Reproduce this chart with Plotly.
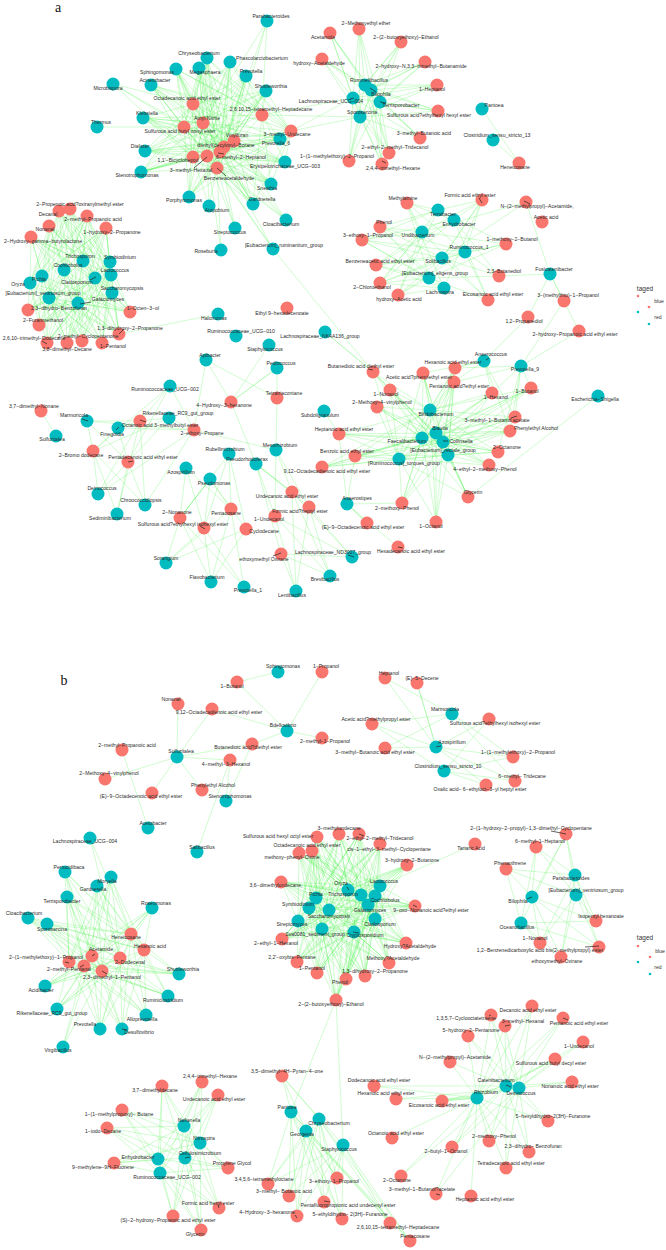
import plotly.graph_objects as go
from itertools import product

# ---------- panel a ----------
A_MAIN_RED = [
    ("Octadecanoic acid ethyl ester",193,104,187,99),("Amyl Nitrite",203,123,207,119),
    ("Sulfurous acid butyl nonyl ester",184,127,180,132),("2,6,10,15-tetramethyl-Heptadecane",262,115,271,110),
    ("3-methyl-Undecane",291,131,287,135),("Vinylfuran",234,141,237,136),
    ("diethyl(decyloxy)-Borane",224,147,226,146),("1,1'-Bicycloheptyl",193,157,178,161),
    ("3-methyl-Hexanal",207,156,191,171),("6-methyl-2-Heptanol",220,152,241,158),
    ("Benzeneacetaldehyde",217,168,229,179),
]
A_MAIN_TEAL = [
    ("Parabacteroides",267,21,271,17),("Chryseobacterium",207,58,199,54),("Megasphaera",199,68,205,73),
    ("Phascolarctobacterium",230,62,262,59),("Sphingomonas",176,69,157,73),("Acinetobacter",151,85,155,81),
    ("Microbispora",113,84,108,89),("Prevotella",246,76,251,72),("Shuttleworthia",266,91,271,87),
    ("Klebsiella",143,118,147,114),("Thermus",97,127,101,123),("Dialister",145,151,140,147),
    ("Stenotrophomonas",141,172,137,176),("Prevotella_6",280,139,276,144),
    ("Erysipelotrichaceae_UCG-003",285,162,285,167),("Sneathia",271,184,267,189),
    ("Gardnerella",253,204,262,200),("Cloacibacterium",286,220,281,225),("Porphyromonas",189,197,184,201),
    ("Atopobium",209,206,217,211),("Streptococcus",235,228,230,233),("Roseburia",221,250,206,252),
    ("[Eubacterium]_ruminantium_group",273,249,284,246),
]
A_TOP_RED = [
    ("Acetamide",330,33,323,38),("hydroxy-Acetaldehyde",322,59,319,64),("2-Methoxyethyl ether",359,29,366,24),
    ("2-(2-butoxyethoxy)-Ethanol",401,42,406,38),("2-hydroxy-N,3,3-trimethyl-Butanamide",425,62,421,67),
    ("1-Heptanol",437,85,432,90),("Sulfurous acid?ethylhexyl hexyl ester",438,111,429,116),
    ("3-methyl-Butanoic acid",420,138,424,134),("2-ethyl-2-methyl-Tridecanol",389,153,395,148),
    ("2,4,4-trimethyl-Hexane",382,164,393,169),("1-(1-methylethoxy)-2-Propanol",349,161,337,157),
]
A_TOP_TEAL = [
    ("Rummeliibacillus",365,85,369,81),("Bilophila",371,90,381,95),("Terrisporobacter",380,102,401,106),
    ("Lachnospiraceae_UCG-004",353,98,331,102),("Sporosarcina",360,117,362,113),
]
A_SOLO_RED = [("Heneicosane",519,163,515,168),("Ethyl 9-hexadecenoate",287,308,282,314)]
A_SOLO_TEAL = [
    ("Pantoea",482,109,494,106),("Clostridium_sensu_stricto_13",493,140,497,136),
    ("Halomonas",218,314,214,319),("Ruminococcaceae_UCG-010",236,336,241,332),
    ("Lachnospiraceae_NK4A136_group",325,332,320,337),("Subdoligranulum",324,411,320,416),
    ("Escherichia-Shigella",598,396,595,400),("Sulfuritalea",56,436,52,440),
]
A_LEFT_RED = [
    ("2-Propenoic acid?oxiranylmethyl ester",70,209,80,205),("Decanal",59,211,48,215),
    ("2-methyl-Propanoic acid",87,216,93,220),("Nonanal",49,226,45,230),
    ("1-hydroxy-2-Propanone",106,228,112,233),("2-Hydroxy-gamma-butyrolactone",31,237,43,242),
    ("2,3-dihydro-Benzofuran",28,310,59,309),("2-Furanmethanol",39,325,43,321),
    ("2,6,10-trimethyl-Dodecane",47,343,34,339),("3,8-dimethyl-Decane",67,343,67,350),
    ("2-methyl-Cyclopentanone",82,341,88,337),("1-Pentanol",102,343,113,347),
    ("1,3-dihydroxy-2-Propanone",119,334,130,329),("1-Octen-3-ol",130,312,143,309),
]
A_LEFT_TEAL = [
    ("Trichosporon",83,261,80,257),("Symbiodinium",110,262,120,258),("Cochliobolus",64,270,68,266),
    ("Lactococcus",111,275,115,271),("Cladosporium",95,278,77,283),("Pichia",42,276,39,280),
    ("Oryza",30,283,18,285),("Saccharomycopsis",112,293,122,289),
    ("[Eubacterium]_ventriosum_group",49,298,43,294),("Galactomyces",78,303,108,300),
]
A_RIGHT_RED = [
    ("Methylamine",407,203,403,199),("Formic acid ethyl ester",482,200,470,196),
    ("N-(2-methylpropyl)-Acetamide,",526,202,537,207),("Acetic acid",542,222,546,218),
    ("Phenol",380,227,384,223),("3-ethoxy-1-Propanol",362,240,368,236),
    ("1-methoxy-2-Butanol",506,244,512,240),("Benzeneacetic acid ethyl ester",376,265,380,262),
    ("2,3-Butanediol",499,276,504,272),("2-Chloroethanol",380,283,372,288),
    ("hydroxy-Acetic acid",398,295,399,300),("Eicosanoic acid ethyl ester",488,300,493,295),
    ("3-(methylthio)-1-Propanol",564,301,568,296),("1,2-Propanediol",528,317,524,322),
    ("2-hydroxy-Propanoic acid ethyl ester",579,331,575,335),
]
A_RIGHT_TEAL = [
    ("Terrabacter",438,210,443,215),("Enhydrobacter",454,220,459,225),("Undibacterium",422,232,418,236),
    ("Ruminococcus_1",465,252,469,248),("Solibacillus",442,258,438,262),
    ("[Eubacterium]_eligens_group",429,278,435,274),("Lachnospira",444,288,440,293),
    ("Fusicatenibacter",550,274,554,270),
]
A_GUT_RED = [
    ("Butanedioic acid diethyl ester",373,372,361,367),("Acetic acid?phenylethyl ester",423,373,419,378),
    ("Hexanoic acid ethyl ester",455,368,453,363),("Pentanoic acid?ethyl ester",454,382,459,387),
    ("1-Butanol",531,388,527,392),("1-Hexanol",492,393,496,398),("1-Nonanol",390,390,386,395),
    ("2-Methoxy-4-vinylphenol",377,407,382,403),("3-methyl-1-Butanol acetate",515,417,497,421),
    ("Phenylethyl Alcohol",510,431,536,429),("2-Octanone",498,452,507,448),
    ("4-ethyl-2-methoxy-Phenol",489,465,485,470),("Glycerin",468,497,473,493),
    ("2-methoxy-Phenol",402,503,397,509),("1-Octanol",436,522,431,527),
    ("Heptanoic acid ethyl ester",339,434,344,430),("Benzoic acid ethyl ester",355,456,347,452),
    ("9,12-Octadecadienoic acid ethyl ester",322,467,327,472),
    ("(E)-9-Octadecenoic acid ethyl ester",367,523,363,528),
    ("Hexadecanoic acid ethyl ester",398,547,411,552),
]
A_GUT_TEAL = [
    ("Anaerococcus",484,361,491,355),("Prevotella_9",521,366,525,370),("Bifidobacterium",430,410,436,415),
    ("Blautia",436,433,440,429),("Collinsella",443,442,461,442),("Faecalibacterium",422,438,407,442),
    ("[Eubacterium]_rectale_group",448,455,443,451),("[Ruminococcus]_torques_group",399,459,404,464),
    ("Anaerostipes",347,504,357,499),
]
A_LOW_RED = [
    ("Tetratriacontane",277,398,284,394),("4-Hydroxy-3-hexanone",231,402,224,406),
    ("3,7-dimethyl-Nonane",41,411,34,407),("Octanoic acid 3-methylbutyl ester",140,421,160,426),
    ("2-ethoxy-Propane",194,430,202,434),("2-Bromo dodecane",93,451,81,456),
    ("Pentadecanoic acid ethyl ester",128,462,143,458),("Undecanoic acid ethyl ester",292,492,287,497),
    ("Formic acid?heptyl ester",309,507,300,512),("1-Undecanol",275,516,269,520),
    ("2-Nonanone",180,518,177,513),("Pentacosane",231,509,226,514),
    ("Sulfurous acid?ethylhexyl isohexyl ester",204,528,183,525),("Cyclodecane",246,529,264,532),
    ("ethoxymethyl Oxirane",281,554,264,560),
]
A_LOW_TEAL = [
    ("Staphylococcus",269,345,265,350),("Pediococcus",277,368,281,364),("Apibacter",206,360,210,356),
    ("Ruminococcaceae_UCG-002",170,386,165,390),("Marmoricola",87,421,74,416),("Finegoldia",118,428,112,435),
    ("Rikenellaceae_RC9_gut_group",169,418,178,414),("Deinococcus",98,494,102,489),
    ("Sediminibacterium",117,514,110,519),("Chroococcidiopsis",145,505,141,501),
    ("Rubellimicrobium",229,454,225,450),("Pseudorhodoferax",256,464,247,460),
    ("Mesorhizobium",276,450,280,446),("Azospirillum",186,468,181,473),("Pseudomonas",210,479,214,484),
    ("Sorangium",166,563,166,559),("Flavobacterium",211,582,207,578),("Prevotella_1",244,587,248,591),
    ("Lentibacillus",296,591,292,596),("Brevibacillus",330,576,325,580),
    ("Lachnospiraceae_ND3007_group",352,557,333,553),
]
# ---------- panel b ----------
B_TOP_RED = [
    ("1-Propanol",322,672,326,667),("1-Butanol",237,682,232,687),("Nonanal",178,704,171,700),
    ("9,12-Octadecadienoic acid ethyl ester",212,709,219,713),("2-methyl-1-Propanol",322,738,325,742),
    ("Butanedioic acid?diethyl ester",252,744,248,748),("2-methyl-Propanoic acid",122,750,127,746),
    ("4-methyl-3-Hexanol",230,760,226,765),("2-Methoxy-4-vinylphenol",105,779,109,774),
    ("Phenylethyl Alcohol",202,790,213,786),("(E)-9-Octadecenoic acid ethyl ester",152,793,141,797),
]
B_TOP_TEAL = [
    ("Sphingomonas",278,672,283,667),("Bdellovibrio",287,731,283,726),("Sulfuritalea",177,757,181,752),
    ("Stenotrophomonas",226,801,230,797),("Acetobacter",148,828,153,824),("Salibacillus",197,852,202,848),
]
B_MARM_RED = [
    ("Heptanol",385,678,389,674),("(E)-5-Decene",417,683,422,679),
    ("Sulfurous acid?ethylhexyl isohexyl ester",489,719,495,724),
    ("Acetic acid?methylpropyl ester",372,724,376,720),("3-methyl-Butanoic acid ethyl ester",385,748,375,753),
    ("1-(1-methylethoxy)-2-Propanol",513,757,518,753),("6-methyl- Tridecane",515,781,522,777),
    ("Oxalic acid- 6-ethyloct-3-yl heptyl ester",486,785,480,790),
]
B_MARM_TEAL = [
    ("Marmoricola",452,714,445,710),("Azospirillum",436,747,452,743),
    ("Clostridium_sensu_stricto_10",444,771,448,767),
]
B_MID_RED = [
    ("Sulfurous acid hexyl octyl ester",317,837,278,837),("3-methylundecane",339,834,339,829),
    ("2-ethyl-2-methyl-Tridecanol",359,834,380,839),("cis-1-ethyl-3-methyl-Cyclopentane",380,844,389,850),
    ("Octadecanoic acid ethyl ester",312,851,307,846),("methoxy-phenyl-Oxime",299,853,292,858),
    ("3-hydroxy-2-Butanone",407,865,412,861),("3,6-dimethylundecane,",281,882,276,886),
    ("9-oxo-Nonanoic acid?ethyl ester",415,906,431,911),("Hydroxy?Acetaldehyde",406,943,410,947),
    ("Methoxy?Acetaldehyde",389,963,393,959),("2-ethyl-1-Hexanol",282,939,276,944),
    ("2,2'-oxybis-Pentane",297,962,292,958),("1-Pentanol",317,973,312,969),
    ("1,3-dihydroxy-2-Propanone",365,976,375,972),("Phenol",346,979,340,983),
    ("2-(2-butoxyethoxy)-Ethanol",336,1000,331,1005),
]
B_MID_TEAL = [
    ("Oryza",348,890,341,884),("Lactococcus",380,886,384,882),("Trichosporon",361,895,343,895),
    ("Pichia",316,898,316,895),("Cochliobolus",375,896,385,901),("Symbiodinium",309,908,298,905),
    ("Saccharomycopsis",329,910,329,917),("Galactomyces",368,905,370,911),("Cladosporium",375,919,380,925),
    ("Streptomyces",298,921,292,925),("Sva0081_sediment_group",322,929,315,935),
    ("Cryptosporidium",354,932,365,936),
]
B_RIGHT_RED = [
    ("Tartaric Acid",475,844,471,849),
    ("2-(1-hydroxy-2-propyl)-1,3-dimethyl-Cyclopentane",566,834,531,829),
    ("6-methyl-1-Heptanol",536,847,540,842),("Phenanthrene",506,869,510,864),
    ("Isopentyl hexanoate",596,921,601,917),("1-Nonanol",540,943,535,939),
    ("1,2-Benzenedicarboxylic acid bis(2-methylpropyl) ester",599,947,540,951),
    ("ethoxymethyl-Oxirane",561,957,557,962),
]
B_RIGHT_TEAL = [
    ("Parabacteroides",575,875,571,879),("[Eubacterium]_ventriosum_group",576,895,586,891),
    ("Bilophila",532,897,518,902),("Oceanobacillus",521,923,517,928),
]
B_LEFT_RED = [
    ("Heneicosane",131,934,126,938),("Hexanoic acid",144,950,150,947),("Acetamide",92,956,101,950),
    ("2-Dodecenal",120,958,130,963),("2-(1-methylethoxy)-1-Propanol",69,962,46,958),
    ("2-methyl-Pentanal",84,966,69,970),("2,3-dimethyl-1-Pentanol",102,971,112,978),
]
B_LEFT_TEAL = [
    ("Lachnospiraceae_UCG-004",90,838,85,842),("Pertucidibaca",65,872,69,868),("Moryella",111,877,107,882),
    ("Gardnerella",97,886,93,890),("Terrisporobacter",67,897,62,902),("Roseomonas",152,908,156,904),
    ("Cloacibacterium",28,918,24,914),("Sporosarcina",47,924,52,930),("Shuttleworthia",179,974,183,970),
    ("Acidibacter",45,986,41,991),("Ruminiclostridium",168,996,163,1001),
    ("Rikenellaceae_RC9_gut_group",57,1009,52,1014),("Alloprevotella",146,1015,142,1020),
    ("Prevotella",100,1029,85,1025),("Desulfovibrio",122,1029,139,1033),("Virgibacillus",63,1047,58,1051),
]
B_BL_RED = [
    ("2,4,4-trimethyl-Hexane",202,1082,210,1077),("3,7-dimethyldecane",162,1086,155,1091),
    ("Undecanoic acid ethyl ester",218,1095,214,1100),("1-(1-methylpropoxy)- Butane",122,1110,119,1115),
    ("1-iodo-Decane",107,1128,103,1132),("9-methylene-9H-Fluorene",114,1163,103,1168),
    ("Propylene Glycol",228,1168,232,1164),("Formic acid hexyl ester",219,1208,208,1204),
    ("(S)-2-hydroxy-Propanoic acid ethyl ester",173,1216,168,1221),("Glycerin",201,1230,195,1235),
]
B_BL_TEAL = [
    ("Nafianella",184,1126,189,1121),("Nitrospira",200,1143,204,1139),
    ("Cellulosimicrobium",185,1158,200,1154),("Enhydrobacter",158,1159,138,1158),
    ("Ruminococcaceae_UCG-002",160,1173,167,1178),
]
B_BM_RED = [
    ("3,5-dimethyl-4H-Pyran-4-one",282,1076,287,1072),("3,4,5,6-tetramethyloctane",268,1184,264,1180),
    ("3-methyl- Butanoic acid",289,1196,284,1192),("Pentafluoropropionic acid undecenyl ester",324,1202,348,1206),
    ("3-ethoxy-1-Propanol",337,1178,334,1182),("4-Hydroxy-3-hexanone",297,1216,267,1213),
    ("5-ethyldihydro- 2(3H)-Furanone",342,1219,350,1215),("2,6,10,15-tetramethyl-Heptadecane",390,1223,398,1228),
    ("Pentacosane",410,1241,415,1237),
]
B_BM_TEAL = [
    ("Pantoea",291,1112,287,1108),("Chryseobacterium",319,1119,329,1124),("Georgenia",306,1131,302,1135),
    ("Staphylococcus",343,1145,339,1150),
]
B_BR_RED = [
    ("Decanoic acid ethyl ester",532,1006,528,1011),("Pentanoic acid ethyl ester",563,1018,579,1024),
    ("1,3,5,7-Cyclooctatetraene",491,1015,466,1019),("3-methyl-Hexanal",505,1026,523,1022),
    ("5-hydroxy-2-Pentanone",468,1036,471,1031),("1-Undecanol",583,1042,579,1047),
    ("Sulfurous acid butyl decyl ester",555,1059,551,1064),("N-(2-methylpropyl)-Acetamide",450,1062,455,1058),
    ("Nonanoic acid ethyl ester",572,1082,570,1087),("Dodecanoic acid ethyl ester",374,1086,379,1081),
    ("Hexanoic acid ethyl ester",396,1099,386,1094),("Eicosanoic acid ethyl ester",442,1101,439,1106),
    ("5-hexyldihydro-2(3H)-Furanone",548,1121,553,1117),("Octanoic acid ethyl ester",392,1138,396,1134),
    ("2-methoxy-Phenol",489,1141,494,1137),("2-butyl-1-Octanol",452,1147,446,1152),
    ("2,3-dihydro- Benzofuran",529,1152,533,1147),("Tetradecanoic acid ethyl ester",506,1168,511,1164),
    ("2-Octanone",401,1176,397,1181),("3-methyl-1-Butanol?acetate",436,1194,422,1190),
    ("Heptanoic acid ethyl ester",471,1196,485,1200),
]
B_BR_TEAL = [
    ("Catenibacterium",506,1086,496,1081),("Deinococcus",519,1088,521,1094),("Rhizobium",477,1098,486,1093),
]

# Edges: teal name -> red partners.
A_LINKS = {
    "Thermus":["Sulfurous acid butyl nonyl ester"],
    "Microbispora":["Octadecanoic acid ethyl ester","Sulfurous acid butyl nonyl ester","diethyl(decyloxy)-Borane","1,1'-Bicycloheptyl"],
    "Parabacteroides":["2,6,10,15-tetramethyl-Heptadecane","Amyl Nitrite","Vinylfuran","Benzeneacetaldehyde"],
    "Roseburia":["3-methyl-Hexanal","Benzeneacetaldehyde"],
    "Streptococcus":["3-methyl-Hexanal","Benzeneacetaldehyde","6-methyl-2-Heptanol"],
    "Atopobium":["3-methyl-Hexanal","Benzeneacetaldehyde","1,1'-Bicycloheptyl"],
    "[Eubacterium]_ruminantium_group":["Benzeneacetaldehyde","6-methyl-2-Heptanol","3-methyl-Hexanal","Butanedioic acid diethyl ester"],
    "Cloacibacterium":["Benzeneacetaldehyde","6-methyl-2-Heptanol","3-methyl-Hexanal","Vinylfuran","diethyl(decyloxy)-Borane"],
    "Lachnospiraceae_UCG-004":["2,6,10,15-tetramethyl-Heptadecane","3-methyl-Undecane"],
    "Sporosarcina":["2,6,10,15-tetramethyl-Heptadecane","3-methyl-Undecane"],
    "Pantoea":["Heneicosane"],"Clostridium_sensu_stricto_13":["Heneicosane"],
    "Halomonas":["1,3-dihydroxy-2-Propanone"],"Sulfuritalea":["3,7-dimethyl-Nonane"],
    "Lachnospiraceae_NK4A136_group":["Butanedioic acid diethyl ester","Butanedioic acid diethyl ester"],
    "Subdoligranulum":["Heptanoic acid ethyl ester"],
    "Escherichia-Shigella":["Glycerin"],
    "Terrabacter":["Methylamine","Formic acid ethyl ester","Phenol","3-ethoxy-1-Propanol","1-methoxy-2-Butanol","2-Chloroethanol","hydroxy-Acetic acid"],
    "Enhydrobacter":["Methylamine","Formic acid ethyl ester","2,3-Butanediol","3-ethoxy-1-Propanol","Benzeneacetic acid ethyl ester","Eicosanoic acid ethyl ester","2-Chloroethanol"],
    "Undibacterium":["Methylamine","Formic acid ethyl ester","N-(2-methylpropyl)-Acetamide,","Phenol","3-ethoxy-1-Propanol","Benzeneacetic acid ethyl ester","1-methoxy-2-Butanol","2-Chloroethanol","hydroxy-Acetic acid","Eicosanoic acid ethyl ester"],
    "Ruminococcus_1":["Methylamine","Formic acid ethyl ester","Phenol","3-ethoxy-1-Propanol","1-methoxy-2-Butanol","Benzeneacetic acid ethyl ester","2,3-Butanediol","2-Chloroethanol","hydroxy-Acetic acid","Eicosanoic acid ethyl ester"],
    "Solibacillus":["Formic acid ethyl ester","N-(2-methylpropyl)-Acetamide,","Phenol","3-ethoxy-1-Propanol","1-methoxy-2-Butanol","Benzeneacetic acid ethyl ester","2,3-Butanediol","2-Chloroethanol","hydroxy-Acetic acid","Eicosanoic acid ethyl ester"],
    "[Eubacterium]_eligens_group":["Methylamine","Formic acid ethyl ester","Phenol","3-ethoxy-1-Propanol","1-methoxy-2-Butanol","Benzeneacetic acid ethyl ester","2,3-Butanediol","2-Chloroethanol","hydroxy-Acetic acid","Eicosanoic acid ethyl ester"],
    "Lachnospira":["Methylamine","Formic acid ethyl ester","Phenol","3-ethoxy-1-Propanol","Benzeneacetic acid ethyl ester","2-Chloroethanol","hydroxy-Acetic acid"],
    "Fusicatenibacter":["N-(2-methylpropyl)-Acetamide,","2,3-Butanediol","3-(methylthio)-1-Propanol","1,2-Propanediol","2-hydroxy-Propanoic acid ethyl ester"],
    "Anaerococcus":["1,2-Propanediol","Hexanoic acid ethyl ester","Pentanoic acid?ethyl ester","Acetic acid?phenylethyl ester","1-Hexanol","3-methyl-1-Butanol acetate","Phenylethyl Alcohol"],
    "Prevotella_9":["3-(methylthio)-1-Propanol","2-hydroxy-Propanoic acid ethyl ester","Hexanoic acid ethyl ester","Pentanoic acid?ethyl ester","1-Hexanol","1-Butanol","3-methyl-1-Butanol acetate","Phenylethyl Alcohol","2-Octanone"],
    "Anaerostipes":["2-methoxy-Phenol","(E)-9-Octadecenoic acid ethyl ester","(E)-9-Octadecenoic acid ethyl ester","Hexadecanoic acid ethyl ester","Heptanoic acid ethyl ester","Benzoic acid ethyl ester"],
    "Staphylococcus":["4-Hydroxy-3-hexanone"],
    "Pediococcus":["4-Hydroxy-3-hexanone","4-Hydroxy-3-hexanone","Tetratriacontane"],
    "Apibacter":["4-Hydroxy-3-hexanone","2-ethoxy-Propane","Tetratriacontane"],
    "Ruminococcaceae_UCG-002":["Octanoic acid 3-methylbutyl ester","2-ethoxy-Propane","2-Bromo dodecane","Pentadecanoic acid ethyl ester"],
    "Marmoricola":["Octanoic acid 3-methylbutyl ester","2-ethoxy-Propane","2-Bromo dodecane","Pentadecanoic acid ethyl ester"],
    "Finegoldia":["Octanoic acid 3-methylbutyl ester","2-ethoxy-Propane","2-Bromo dodecane","Pentadecanoic acid ethyl ester"],
    "Rikenellaceae_RC9_gut_group":["Octanoic acid 3-methylbutyl ester","2-ethoxy-Propane","2-Bromo dodecane","Pentadecanoic acid ethyl ester"],
    "Deinococcus":["Octanoic acid 3-methylbutyl ester","2-Bromo dodecane","Pentadecanoic acid ethyl ester","2-ethoxy-Propane"],
    "Sediminibacterium":["Octanoic acid 3-methylbutyl ester","2-Bromo dodecane","Pentadecanoic acid ethyl ester"],
    "Chroococcidiopsis":["Octanoic acid 3-methylbutyl ester","2-Bromo dodecane","Pentadecanoic acid ethyl ester","2-ethoxy-Propane"],
    "Mesorhizobium":["Tetratriacontane","2-ethoxy-Propane","Undecanoic acid ethyl ester","Formic acid?heptyl ester","1-Undecanol"],
    "Pseudorhodoferax":["4-Hydroxy-3-hexanone","Undecanoic acid ethyl ester","Undecanoic acid ethyl ester","1-Undecanol","Formic acid?heptyl ester","ethoxymethyl Oxirane"],
    "Rubellimicrobium":["2-Nonanone","Pentacosane","Sulfurous acid?ethylhexyl isohexyl ester","Cyclodecane"],
    "Azospirillum":["2-Nonanone","Sulfurous acid?ethylhexyl isohexyl ester","Pentacosane"],
    "Pseudomonas":["2-Nonanone","2-Nonanone","Sulfurous acid?ethylhexyl isohexyl ester","Pentacosane","Cyclodecane"],
    "Sorangium":["2-Nonanone","Sulfurous acid?ethylhexyl isohexyl ester","Pentacosane","Cyclodecane"],
    "Flavobacterium":["2-Nonanone","Pentacosane","Cyclodecane","Sulfurous acid?ethylhexyl isohexyl ester"],
    "Prevotella_1":["2-Nonanone","Sulfurous acid?ethylhexyl isohexyl ester","Pentacosane"],
    "Lentibacillus":["1-Undecanol","ethoxymethyl Oxirane","Undecanoic acid ethyl ester","Formic acid?heptyl ester"],
    "Brevibacillus":["1-Undecanol","ethoxymethyl Oxirane","Formic acid?heptyl ester","Undecanoic acid ethyl ester"],
    "Lachnospiraceae_ND3007_group":["Undecanoic acid ethyl ester","Formic acid?heptyl ester","1-Undecanol","ethoxymethyl Oxirane"],
}
B_LINKS = {
    "Sphingomonas":["1-Butanol"],
    "Bdellovibrio":["1-Butanol","1-Propanol","9,12-Octadecadienoic acid ethyl ester","2-methyl-1-Propanol","Butanedioic acid?diethyl ester"],
    "Sulfuritalea":["Nonanal","9,12-Octadecadienoic acid ethyl ester","Butanedioic acid?diethyl ester","4-methyl-3-Hexanol","2-Methoxy-4-vinylphenol","Phenylethyl Alcohol","(E)-9-Octadecenoic acid ethyl ester"],
    "Stenotrophomonas":["Butanedioic acid?diethyl ester","4-methyl-3-Hexanol"],
    "Acetobacter":["2-methyl-Propanoic acid"],
    "Salibacillus":["4-methyl-3-Hexanol"],
    "Marmoricola":["Heptanol","Acetic acid?methylpropyl ester","3-methyl-Butanoic acid ethyl ester","1-(1-methylethoxy)-2-Propanol","6-methyl- Tridecane"],
    "Azospirillum":["Heptanol","(E)-5-Decene","(E)-5-Decene","Acetic acid?methylpropyl ester","3-methyl-Butanoic acid ethyl ester","Sulfurous acid?ethylhexyl isohexyl ester","1-(1-methylethoxy)-2-Propanol","6-methyl- Tridecane","Oxalic acid- 6-ethyloct-3-yl heptyl ester"],
    "Clostridium_sensu_stricto_10":["Acetic acid?methylpropyl ester","Sulfurous acid?ethylhexyl isohexyl ester","1-(1-methylethoxy)-2-Propanol","6-methyl- Tridecane","Oxalic acid- 6-ethyloct-3-yl heptyl ester"],
    "Lactococcus":["Tartaric Acid"],
    "Lachnospiraceae_UCG-004":["Heneicosane","2-Dodecenal"],
    "Virgibacillus":["2-methyl-Pentanal","Acetamide","2,3-dimethyl-1-Pentanol"],
    "Staphylococcus":["2-(2-butoxyethoxy)-Ethanol"],
    "Pantoea":["2-(2-butoxyethoxy)-Ethanol"],
    "Catenibacterium":["Decanoic acid ethyl ester","Pentanoic acid ethyl ester","1,3,5,7-Cyclooctatetraene","3-methyl-Hexanal","5-hydroxy-2-Pentanone","1-Undecanol","Sulfurous acid butyl decyl ester","N-(2-methylpropyl)-Acetamide","Nonanoic acid ethyl ester","Dodecanoic acid ethyl ester","Eicosanoic acid ethyl ester","5-hexyldihydro-2(3H)-Furanone","2-methoxy-Phenol","2-butyl-1-Octanol","2,3-dihydro- Benzofuran","Tetradecanoic acid ethyl ester","2-Octanone"],
    "Deinococcus":["Decanoic acid ethyl ester","Pentanoic acid ethyl ester","1,3,5,7-Cyclooctatetraene","3-methyl-Hexanal","5-hydroxy-2-Pentanone","1-Undecanol","Sulfurous acid butyl decyl ester","Nonanoic acid ethyl ester","Hexanoic acid ethyl ester","Eicosanoic acid ethyl ester","5-hexyldihydro-2(3H)-Furanone","2-methoxy-Phenol","2-butyl-1-Octanol","2,3-dihydro- Benzofuran","Tetradecanoic acid ethyl ester","3-methyl-1-Butanol?acetate"],
    "Rhizobium":["Decanoic acid ethyl ester","Pentanoic acid ethyl ester","1,3,5,7-Cyclooctatetraene","3-methyl-Hexanal","5-hydroxy-2-Pentanone","Sulfurous acid butyl decyl ester","N-(2-methylpropyl)-Acetamide","Dodecanoic acid ethyl ester","Hexanoic acid ethyl ester","Eicosanoic acid ethyl ester","Eicosanoic acid ethyl ester","5-hexyldihydro-2(3H)-Furanone","Octanoic acid ethyl ester","2-methoxy-Phenol","2-butyl-1-Octanol","2,3-dihydro- Benzofuran","Tetradecanoic acid ethyl ester","2-Octanone","3-methyl-1-Butanol?acetate","Heptanoic acid ethyl ester"],
}
# Groups in which every teal node joins every red node (apart from the teal nodes listed above).
A_DENSE = [(A_MAIN_RED,A_MAIN_TEAL),(A_TOP_RED,A_TOP_TEAL),(A_LEFT_RED,A_LEFT_TEAL),
           (A_GUT_RED[:18],A_GUT_TEAL[2:8])]
B_DENSE = [(B_MID_RED,B_MID_TEAL),(B_RIGHT_RED[1:],B_RIGHT_TEAL),(B_LEFT_RED,B_LEFT_TEAL),
           (B_BL_RED,B_BL_TEAL),(B_BM_RED,B_BM_TEAL)]
A_NOT_DENSE = {"Thermus","Microbispora","Parabacteroides","Roseburia","Streptococcus","Atopobium",
               "[Eubacterium]_ruminantium_group","Cloacibacterium"}
B_NOT_DENSE = {"Lachnospiraceae_UCG-004","Virgibacillus"}

# Thin black leader lines seen inside some nodes: (x0, y0, x1, y1)
LEADERS = [(207,157,194,168),(217,168,226,176),(218,153,224,154),(80,304,91,302),(90,280,96,277),
           (119,334,124,329),(42,341,47,344),(370,88,376,92),(350,99,354,98),(380,102,386,103),
           (386,163,382,161),(479,198,482,203),(524,201,530,204),(140,420,146,422),(82,419,88,421),
           (116,430,119,427),(128,462,133,461),(200,526,205,529),(273,556,281,553),(373,370,368,369),
           (486,360,489,358),(511,418,517,416),(443,441,448,441),(398,547,403,548),(348,555,354,557),
           (436,747,441,746),(551,831,566,834),(532,897,527,899),(585,947,599,946),
           (347,887,349,890),(359,834,364,836),(413,905,417,907),(353,932,359,933),
           (92,956,95,954),(80,967,84,965),(65,962,69,963),(102,971,107,974),(122,1029,127,1030),
           (185,1158,190,1157),(219,1208,218,1205),(295,1215,297,1218),(324,1201,330,1202),
           (491,1015,489,1016),(505,1026,510,1025),(563,1018,568,1020),(506,1085,511,1087),
           (436,1194,440,1195)]
LEGEND_A = [("blue",(638,649),(296,307),"#F8766D",659,302),("red",(638,649),(312,324),"#00BFC4",658,318)]
LEGEND_B = [("blue",(638,650),(946,957),"#F8766D",660,952),("red",(638,650),(962,974),"#00BFC4",658,968)]
PANEL_TAGS = [("a",58,8),("b",64,681)]
TAGED = [(645,289),(645,938)]

A_REDS = A_MAIN_RED+A_TOP_RED+A_SOLO_RED+A_LEFT_RED+A_RIGHT_RED+A_GUT_RED+A_LOW_RED
A_TEALS = A_MAIN_TEAL+A_TOP_TEAL+A_SOLO_TEAL+A_LEFT_TEAL+A_RIGHT_TEAL+A_GUT_TEAL+A_LOW_TEAL
B_REDS = B_TOP_RED+B_MARM_RED+B_MID_RED+B_RIGHT_RED+B_LEFT_RED+B_BL_RED+B_BM_RED+B_BR_RED
B_TEALS = B_TOP_TEAL+B_MARM_TEAL+B_MID_TEAL+B_RIGHT_TEAL+B_LEFT_TEAL+B_BL_TEAL+B_BM_TEAL+B_BR_TEAL

fig = go.Figure()

def add_edges(reds, teals, links, dense, not_dense):
    r = {n[0]: n for n in reds}
    t = {n[0]: n for n in teals}
    pairs = []
    for rs, ts in dense:
        for a, b in product(rs, ts):
            if b[0] not in not_dense:
                pairs.append((a[0], b[0]))
    for teal, partners in links.items():
        for red in partners:
            pairs.append((red, teal))
    # one trace per red node so overlapping edges build up darker tones
    stars = {}
    for red, teal in pairs:
        stars.setdefault(red, []).append(teal)
    for red, ts in stars.items():
        xs, ys = [], []
        for name in ts:
            xs += [r[red][1], t[name][1], None]
            ys += [r[red][2], t[name][2], None]
        fig.add_trace(go.Scatter(x=xs, y=ys, mode="lines", hoverinfo="skip",
                                 line=dict(color="rgba(50,240,50,0.25)", width=0.9)))

add_edges(A_REDS, A_TEALS, A_LINKS, A_DENSE, A_NOT_DENSE)
add_edges(B_REDS, B_TEALS, B_LINKS, B_DENSE, B_NOT_DENSE)

for nodes, col in ((A_TEALS+B_TEALS, "#00BCC1"), (A_REDS+B_REDS, "#F8766D")):
    fig.add_trace(go.Scatter(x=[n[1] for n in nodes], y=[n[2] for n in nodes], mode="markers",
                             text=[n[0] for n in nodes], hoverinfo="text",
                             marker=dict(size=13, color=col, line=dict(width=0))))

lx, ly = [], []
for x0, y0, x1, y1 in LEADERS:
    lx += [x0, x1, None]; ly += [y0, y1, None]
fig.add_trace(go.Scatter(x=lx, y=ly, mode="lines", hoverinfo="skip", line=dict(color="#222", width=0.7)))

ALL = A_REDS+A_TEALS+B_REDS+B_TEALS
fig.add_trace(go.Scatter(x=[n[3] for n in ALL], y=[n[4] for n in ALL], mode="text",
                         text=[n[0].replace("-", "\u2212") for n in ALL], textposition="middle center",
                         hoverinfo="skip",
                         textfont=dict(family="Liberation Sans", size=5.1, color="#2a2a2a")))

for name, xs, ys, col, tx, ty in LEGEND_A+LEGEND_B:
    fig.add_trace(go.Scatter(x=list(xs), y=list(ys), mode="lines+markers", hoverinfo="skip",
                             line=dict(color="rgba(50,240,50,0.12)", width=0.5),
                             marker=dict(size=2.6, color=col)))
    fig.add_trace(go.Scatter(x=[tx], y=[ty], mode="text", text=[name], hoverinfo="skip",
                             textfont=dict(family="Liberation Sans", size=5.1, color="#333")))
fig.add_trace(go.Scatter(x=[p[0] for p in TAGED], y=[p[1] for p in TAGED], mode="text", text=["taged"]*2,
                         hoverinfo="skip", textfont=dict(family="Liberation Sans", size=6.5, color="#333")))
fig.add_trace(go.Scatter(x=[p[1] for p in PANEL_TAGS], y=[p[2] for p in PANEL_TAGS], mode="text",
                         text=[p[0] for p in PANEL_TAGS], hoverinfo="skip",
                         textfont=dict(family="Liberation Serif", size=14, color="#111")))

fig.update_layout(width=666, height=1250, margin=dict(l=0, r=0, t=0, b=0), showlegend=False,
                  paper_bgcolor="white", plot_bgcolor="white",
                  xaxis=dict(range=[0, 666], visible=False, fixedrange=True),
                  yaxis=dict(range=[1250, 0], visible=False, fixedrange=True))
fig.write_html("out.html", config={"displayModeBar": False},
               post_script="document.body.style.margin='0';document.body.style.overflow='hidden';")
